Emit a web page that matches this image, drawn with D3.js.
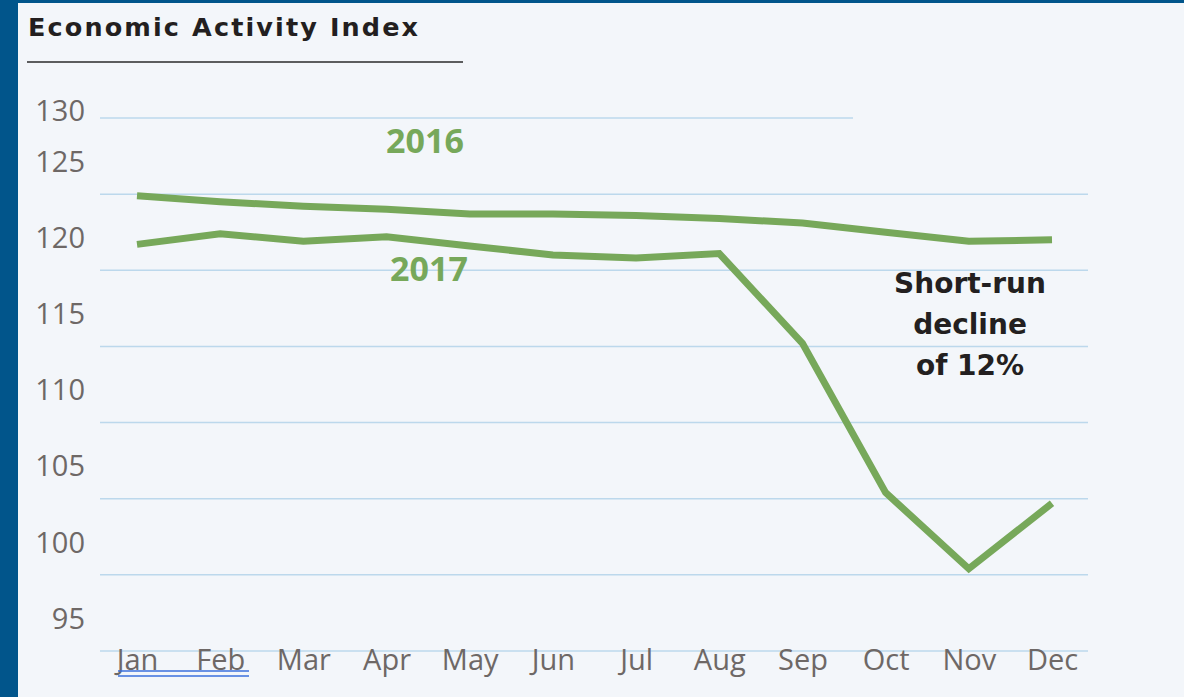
<!DOCTYPE html>
<html>
<head>
<meta charset="utf-8">
<script src="https://cdn.jsdelivr.net/npm/d3@7"></script>
<style>
  html, body { margin: 0; padding: 0; background: #f3f6fa; }
  svg { display: block; }
</style>
</head>
<body>
<svg id="chart" width="1184" height="697"></svg>
<script>
const months = ["Jan","Feb","Mar","Apr","May","Jun","Jul","Aug","Sep","Oct","Nov","Dec"];
const values2016 = [124.9, 124.5, 124.2, 124.0, 123.7, 123.7, 123.6, 123.4, 123.1, 122.5, 121.9, 122.0];
const values2017 = [121.7, 122.4, 121.9, 122.2, 121.6, 121.0, 120.8, 121.1, 115.2, 105.4, 100.4, 104.7];
const yTicks = [130, 125, 120, 115, 110, 105, 100, 95];
const title = "Economic Activity Index";
const seriesLabels = ["2016", "2017"];
const annotation = ["Short-run", "decline", "of 12%"];

const W = 1184, H = 697;
const svg = d3.select("#chart");
const green = "#77a85a";
const gridColor = "#bcd8ec";
const axisText = "#6e6866";

// frame: blue strip at left and top only
svg.append("rect").attr("x", 0).attr("y", 0).attr("width", W).attr("height", H).attr("fill", "#01558b");
svg.append("rect").attr("x", 18).attr("y", 3).attr("width", W - 18).attr("height", H - 3).attr("fill", "#f3f6fa");

// scales
const x = d3.scalePoint().domain(months).range([137, 1052]);
const y = d3.scaleLinear().domain([95, 130]).range([651, 118]);

// title
svg.append("text")
  .attr("x", 28).attr("y", 36)
  .attr("font-family", "DejaVu Sans").attr("font-weight", 700)
  .attr("font-size", 25.5).attr("fill", "#231f20")
  .attr("textLength", 390).attr("lengthAdjust", "spacing")
  .text(title);
svg.append("line").attr("x1", 27).attr("x2", 463).attr("y1", 62).attr("y2", 62)
  .attr("stroke", "#2a2a2a").attr("stroke-width", 1.6);

// gridlines
const gridEnd = v => v === 130 ? 853 : 1088;
svg.append("g").selectAll("line").data(yTicks).join("line")
  .attr("x1", 100).attr("x2", d => gridEnd(d))
  .attr("y1", d => y(d)).attr("y2", d => y(d))
  .attr("stroke", gridColor).attr("stroke-width", 1.5);

// y axis
const yAxis = svg.append("g").attr("transform", "translate(100,0)")
  .call(d3.axisLeft(y).tickValues(yTicks).tickSize(0).tickPadding(15));
yAxis.select(".domain").remove();
yAxis.selectAll("text")
  .attr("font-family", "Open Sans").attr("font-size", 29).attr("fill", axisText)
  .attr("y", d => d === 130 ? -7 : -32);

// x axis
const xAxis = svg.append("g").attr("transform", "translate(0,651)")
  .call(d3.axisBottom(x).tickSize(0));
xAxis.select(".domain").remove();
xAxis.selectAll("text")
  .attr("font-family", "Open Sans").attr("font-size", 29).attr("fill", axisText)
  .attr("dy", null).attr("y", 19);

// double underline under Jan / Feb
[671, 676].forEach(yy => {
  svg.append("line").attr("x1", 118).attr("x2", 249).attr("y1", yy).attr("y2", yy)
    .attr("stroke", "#3b6fdc").attr("stroke-width", 1.4);
});

// lines
const line = d3.line().x((d, i) => x(months[i])).y(d => y(d));
[values2016, values2017].forEach(vals => {
  svg.append("path").datum(vals)
    .attr("d", line)
    .attr("fill", "none").attr("stroke", green)
    .attr("stroke-width", 7).attr("stroke-linejoin", "miter").attr("stroke-linecap", "butt");
});

// series labels
svg.append("text").attr("x", 425).attr("y", 153).attr("text-anchor", "middle")
  .attr("font-family", "Open Sans").attr("font-weight", 700).attr("font-size", 34)
  .attr("fill", green).text(seriesLabels[0]);
svg.append("text").attr("x", 429).attr("y", 281).attr("text-anchor", "middle")
  .attr("font-family", "Open Sans").attr("font-weight", 700).attr("font-size", 34)
  .attr("fill", green).text(seriesLabels[1]);

// annotation
const ann = svg.append("text").attr("text-anchor", "middle")
  .attr("font-family", "DejaVu Sans").attr("font-weight", 700).attr("font-size", 28)
  .attr("fill", "#231f20");
annotation.forEach((t, i) => {
  ann.append("tspan").attr("x", 970).attr("y", 293 + i * 41).text(t);
});
</script>
</body>
</html>
